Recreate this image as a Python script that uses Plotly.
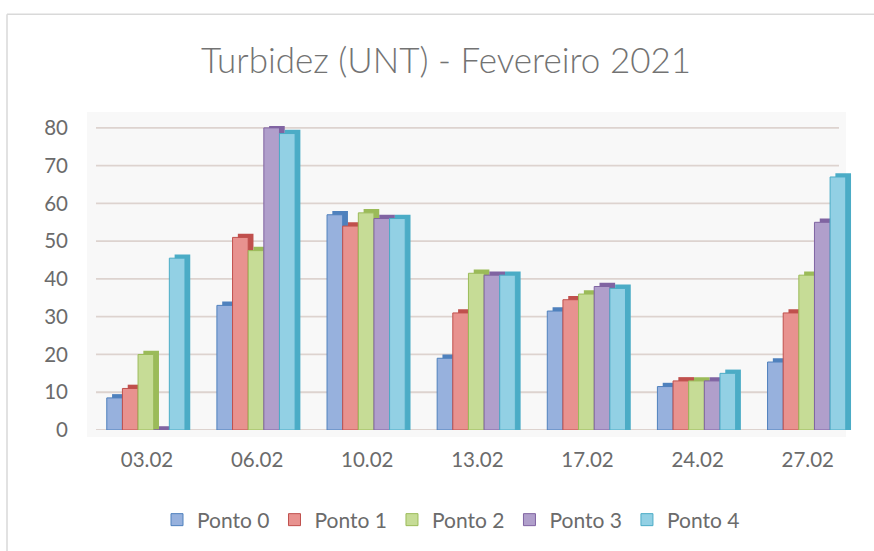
import plotly.graph_objects as go

# Turbidity readings (UNT), February 2021
dates = ["03.02", "06.02", "10.02", "13.02", "17.02", "24.02", "27.02"]
series_names = ["Ponto 0", "Ponto 1", "Ponto 2", "Ponto 3", "Ponto 4"]
ponto_0 = [8.5, 33, 57, 19, 31.5, 11.5, 18]
ponto_1 = [11, 51, 54, 31, 34.5, 13, 31]
ponto_2 = [20, 47.5, 57.5, 41.5, 36, 13, 41]
ponto_3 = [0, 80, 56, 41, 38, 13, 55]
ponto_4 = [45.5, 78.5, 56, 41, 37.5, 15, 67]
y_ticks = [0, 10, 20, 30, 40, 50, 60, 70, 80]

series_values = [ponto_0, ponto_1, ponto_2, ponto_3, ponto_4]
face_colors = ["#97B1DD", "#E8928F", "#C6DC96", "#B09FCB", "#92D0E4"]
edge_colors = ["#4F81BD", "#C0504D", "#9BBB59", "#8064A2", "#4BACC6"]

# geometry of the pseudo-3D columns (category units / value units)
BAR_W = 0.142
GROUP_LEFT = -0.365
DEPTH_X = 0.048
DEPTH_Y = 1.0

FONT = "Lato"
TEXT_GREY = "#6b6b6b"
GRID = "#ddd3cf"

fig = go.Figure()

# depth faces (top and right side) drawn first, so the next column's front covers them
for k, (name, vals) in enumerate(zip(series_names, series_values)):
    fig.add_trace(go.Bar(
        x=dates,
        y=[v + DEPTH_Y for v in vals],
        width=BAR_W,
        offset=GROUP_LEFT + k * BAR_W + DEPTH_X,
        marker=dict(color=edge_colors[k], line=dict(width=0)),
        showlegend=False,
        hoverinfo="skip",
    ))

# front faces
for k, (name, vals) in enumerate(zip(series_names, series_values)):
    fig.add_trace(go.Bar(
        x=dates,
        y=vals,
        name=name,
        width=BAR_W,
        offset=GROUP_LEFT + k * BAR_W,
        marker=dict(color=face_colors[k], line=dict(color=edge_colors[k], width=1)),
    ))

L, R, T, B = 100, 20, 126, 120
W_PX, H_PX = 874 - L - R, 551 - T - B


def px_x(p):
    return (p - L) / W_PX


def px_y(p):
    return (551 - B - p) / H_PX


shapes = [
    # light back wall behind the gridlines
    dict(type="rect", xref="paper", yref="paper", layer="below",
         x0=px_x(87), x1=px_x(846), y0=px_y(438), y1=px_y(112),
         fillcolor="#f8f8f8", line=dict(width=0)),
    # chart frame (left and top edges)
    dict(type="line", xref="paper", yref="paper",
         x0=px_x(7), x1=px_x(7), y0=px_y(560), y1=px_y(14),
         line=dict(color="#d9d9d9", width=1.5)),
    dict(type="line", xref="paper", yref="paper",
         x0=px_x(7), x1=px_x(880), y0=px_y(14), y1=px_y(14),
         line=dict(color="#d9d9d9", width=1.5)),
]
# horizontal gridlines on the back wall, one per tick value
for v in y_ticks:
    shapes.append(dict(type="line", xref="paper", yref="y", layer="below",
                       x0=px_x(96), x1=px_x(839), y0=v, y1=v,
                       line=dict(color=GRID, width=1.8)))

fig.update_layout(
    width=874,
    height=551,
    margin=dict(l=L, r=R, t=T, b=B),
    paper_bgcolor="white",
    plot_bgcolor="rgba(0,0,0,0)",
    barmode="overlay",
    font=dict(family=FONT, color=TEXT_GREY),
    title=dict(
        text="Turbidez (UNT) - Fevereiro 2021",
        font=dict(family=FONT, size=35, color="#737373", weight=300),
        x=446 / 874, xref="container", xanchor="center",
        y=1 - 61 / 551, yref="container", yanchor="middle",
    ),
    xaxis=dict(
        type="category",
        range=[-0.4266, 6.42],
        showgrid=False,
        showline=False,
        zeroline=False,
        ticks="",
        ticklabelstandoff=15,
        tickfont=dict(family=FONT, size=20.5, color=TEXT_GREY),
    ),
    yaxis=dict(
        range=[0, 80.5],
        tickvals=y_ticks,
        showgrid=False,
        zeroline=False,
        showline=False,
        ticks="",
        ticklabelstandoff=31,
        tickfont=dict(family=FONT, size=20.5, color=TEXT_GREY),
    ),
    legend=dict(
        orientation="h",
        x=px_x(451), xanchor="center",
        y=px_y(520), yanchor="middle",
        font=dict(family=FONT, size=21, color=TEXT_GREY),
        itemwidth=30,
        bgcolor="rgba(0,0,0,0)",
    ),
    shapes=shapes,
)

fig.write_html("out.html")
